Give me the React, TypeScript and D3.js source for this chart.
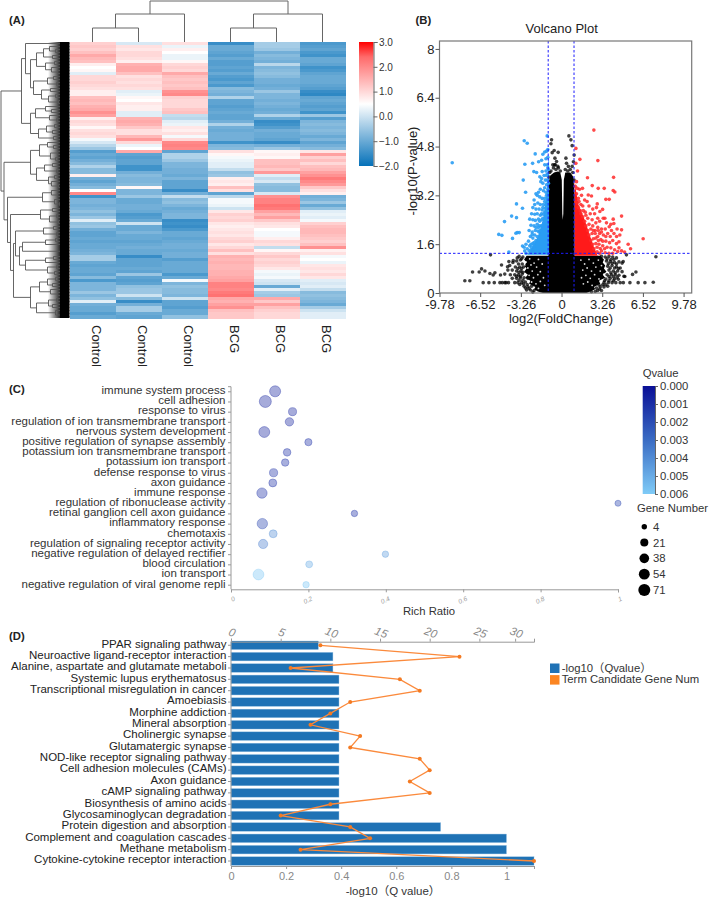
import React, { useEffect, useRef } from 'react';
import * as d3 from 'd3';

const FONT = '"Liberation Sans", Arial, "Noto Sans CJK SC", sans-serif';

// ---- panel A: heatmap ----
const heatColumns = ['Control', 'Control', 'Control', 'BCG', 'BCG', 'BCG'];
const control1 = [1.1,1.2,1.1,1.3,1.6,1.4,1.3,0.7,0.5,0.6,0.2,1.0,1.0,1.1,1.0,0.9,0.7,0.7,1.3,1.4,1.3,1.5,1.6,1.9,1.7,0.7,1.0,0.9,0.6,0.9,1.0,0.9,0.4,0.1,-0.2,-0.5,-1.2,-1.0,-1.1,-0.9,-0.7,-0.3,-0.7,-0.7,0.7,-0.9,-1.1,-0.9,-0.7,0.5,2.0,-1.4,-0.8,-0.8,-0.9,-0.8,-0.6,-0.8,-0.5,0.2,-0.6,-0.5,-0.9,-1.1,-1.1,-1.0,-1.1,-1.0,-1.0,-0.9,-0.8,-0.4,-0.4,-1.0,-1.1,-1.0,-1.0,-1.1,-0.7,-1.3,-0.8,-0.8,-0.8,-0.5,-0.8,-0.6,0.2,-0.9,-1.0,-1.0,-1.2,-1.0];
const control2 = [0.1,0.9,0.8,1.0,1.0,0.9,0.7,1.5,1.6,1.6,1.3,0.9,1.0,0.9,1.0,0.9,0.2,0.3,0.6,0.5,0.8,0.7,0.7,0.2,0.2,1.5,1.6,1.5,1.2,0.9,0.9,1.4,1.8,1.0,0.3,0.5,1.6,-1.1,-1.2,-1.1,-1.1,-1.4,-1.4,-0.9,-0.7,-0.8,-0.8,-0.7,0.6,-0.8,-0.8,-0.5,-1.0,-1.0,-0.9,-0.9,-1.0,-1.3,-1.2,-1.0,0.0,-1.0,-1.0,-0.8,-1.0,-1.0,-1.1,-1.0,-0.9,-1.0,-1.0,-1.5,-1.1,-1.1,-1.1,-1.0,-1.1,-0.5,-1.1,-1.2,-1.1,-0.6,-0.5,-0.5,0.0,-0.7,-1.5,-0.9,-0.4,-0.4,-1.0,-1.1];
const control3 = [0.9,0.3,0.7,0.5,0.3,0.3,0.6,1.0,1.1,1.0,1.6,1.3,1.2,1.3,1.2,1.3,1.9,2.0,1.1,1.0,1.0,1.0,1.2,1.3,-0.1,-0.2,0.2,0.3,0.8,0.7,0.9,0.4,1.0,2.0,2.1,2.0,-1.1,-0.3,-0.3,-0.5,-0.8,-0.8,-0.9,-0.9,-1.0,-0.8,-1.1,-1.1,-1.1,-1.5,-0.9,-0.1,-0.7,-0.6,-0.8,-1.0,-0.9,-0.8,-0.8,-1.5,-1.4,-1.5,-1.3,-1.0,-1.0,-1.1,-1.0,-0.9,-0.9,-1.0,-0.9,-0.9,-1.2,-1.0,-1.0,-1.0,-1.0,-1.3,-1.0,0.4,-0.8,-0.6,-0.7,-0.7,-0.8,0.0,-1.1,-1.1,-1.2,-1.0,-1.0,-0.6];
const bcg1 = [-1.5,-1.0,-1.0,-1.1,-1.2,-1.0,-1.2,-1.2,-1.1,-1.2,-1.0,-1.2,-1.3,-1.1,-1.3,-0.7,-0.8,-0.9,-0.3,-1.1,-1.1,-1.2,-1.1,-1.0,-1.1,-1.1,-0.9,-0.3,-0.9,-1.0,-0.9,-0.9,-0.9,-1.4,-0.8,-0.7,0.9,0.6,0.4,0.3,0.2,0.2,-0.1,-0.6,-0.5,0.7,0.8,0.7,1.3,0.9,-1.1,-0.2,0.4,0.4,0.3,0.0,0.8,1.1,1.0,1.1,0.8,0.7,0.8,0.9,0.8,1.0,1.1,0.8,1.0,1.3,0.9,1.5,1.4,1.5,1.4,1.4,1.5,1.5,1.6,1.7,2.1,2.1,2.0,2.2,2.3,1.6,1.5,1.7,1.9,1.3,1.2,1.2];
const bcg2 = [-0.4,-0.4,-0.5,-0.9,-0.7,-0.8,-0.9,-0.2,-0.8,-0.7,-0.6,-0.7,-0.9,-0.9,-1.0,-0.9,-0.5,-0.8,-0.8,-0.9,-0.8,-0.9,-1.0,-0.9,-0.3,-1.0,-1.5,-1.4,-1.2,-0.9,-1.0,-1.0,-1.1,-1.5,-0.9,-0.5,0.6,0.7,0.6,1.3,1.3,1.4,1.2,1.8,0.2,-0.1,0.1,-0.6,-0.7,-0.7,0.1,1.9,2.1,2.1,2.3,2.2,1.7,1.4,1.7,1.2,0.9,0.8,0.5,0.4,0.4,0.7,1.0,0.9,-0.1,0.6,1.0,1.2,1.0,1.1,1.0,0.8,0.4,0.3,0.4,0.1,0.0,-1.0,0.2,-0.4,-0.5,1.6,1.2,1.7,1.3,1.1,1.0,1.0];
const bcg3 = [-1.3,-1.2,-1.1,-1.3,-1.4,-1.0,-1.0,-1.1,-1.4,-1.3,-1.1,-1.0,-1.0,-1.0,-1.1,-1.2,-1.5,-1.6,-1.1,-1.0,-1.1,-1.2,-1.1,-1.4,-0.5,-1.2,-0.8,-0.7,-0.8,-0.7,-0.8,-1.0,-0.8,-1.1,-0.9,-0.7,0.8,1.7,1.1,1.3,1.0,1.3,1.4,1.7,1.9,2.2,2.0,1.8,1.2,0.9,0.7,-0.9,-0.8,-0.5,-1.0,-0.6,0.2,0.3,0.2,0.4,1.1,1.3,1.4,1.4,1.3,1.2,1.1,1.3,1.9,0.7,0.9,0.4,0.5,0.3,0.8,0.9,0.8,1.0,0.8,0.2,0.1,0.2,-0.1,-0.7,-0.6,-0.7,-0.8,-1.0,-0.4,0.0,0.2,0.2];
const heatValues = [control1, control2, control3, bcg1, bcg2, bcg3];
const heatBarTicks = [3, 2, 1, 0, -1, -2];

// dendrograms: [merge height, ...children], a number is a leaf
type Tree = number | Tree[];
const topTree: Tree = [41, [28, [14, 0, 1], 2], [28, [14, 3, 4], 5]];
const leftTree: Tree = [68.5,
  [48,
    [44, 0,
      [39,
        [33, [26, [20, 1, [14, 2, 3]], [17, 4, 5]], [24, [15, 6, 7], [18, 8, [12, 9, 10]]]],
        [36, [22, [16, 11, 12], [13, 13, 14]], [28, [19, 15, 16], [21, [14, 17, 18], [11, 19, 20]]]]
      ]
    ],
    [39,
      [34, [24, 21, [18, 22, 23]], [20, 24, [13, 25, 26]]],
      [31, [23, [15, 27, 28], [17, 29, 30]], [16, 31, 32]]
    ]
  ],
  [65.5,
    [39,
      [30, [22, 33, [16, 34, 35]], [19, [12, 36, 37], [14, 38, 39]]],
      [33, [25, [17, 40, 41], [13, 42, 43]], [21, [15, 44, 45], [18, 46, [11, 47, 48]]]]
    ],
    [62,
      [27, [18, 49, [12, 50, 51]], [15, 52, [10, 53, 54]]],
      [59,
        [29, [17, 55, 56], [20, [13, 57, 58], [11, 59, 60]]],
        [56,
          [54,
            [26, [16, 61, 62], [13, 63, 64]],
            [50,
              [47, [24, [14, 65, 66], 67], [9, [5, 68, 69], 70]],
              [44, [24, [16, 71, 72], 73], [22, [13, 74, 75], [15, 76, 77]]]
            ]
          ],
          [39,
            [30, [22, [14, 78, 79], [17, 80, 81]], [19, 82, [12, 83, 84]]],
            [33, [21, [13, 85, 86], [17, 87, 88]], [14, 89, [9, 90, 91]]]
          ]
        ]
      ]
    ]
  ]
];

// ---- panel B: volcano ----
const volcanoXTicks = [-9.78, -6.52, -3.26, 0, 3.26, 6.52, 9.78];
const volcanoYTicks = [0, 1.6, 3.2, 4.8, 6.4, 8];
// dense parts of the cloud, read as outlines
const coreTop = [[-1.05,3.6],[-0.9,3.85],[-0.6,3.95],[-0.3,3.98],[-0.1,3.95],[0.02,3.7],[0.06,2.6],[0.1,2.4],[0.14,2.6],[0.18,3.7],[0.3,3.95],[0.7,3.95],[0.95,3.8],[1.05,3.2]];
const lowerLeftEdge = [[0,-1.5],[0.05,-1.9],[0.12,-2.2],[0.2,-2.1],[0.3,-2.6],[0.4,-2.5],[0.5,-2.9],[0.6,-2.7],[0.7,-3],[0.8,-2.8],[0.9,-3],[1,-2.8],[1.1,-3],[1.22,-2.8]];
const lowerRightEdge = [[0,2],[0.05,2.3],[0.12,2.7],[0.2,2.6],[0.3,3.1],[0.4,3],[0.5,3.5],[0.6,3.3],[0.7,3.6],[0.8,3.4],[0.9,3.5],[1,3.3],[1.1,3.4],[1.22,3.1]];
const blueEdge = [[1.25,-2.75],[1.5,-2.35],[1.85,-1.9],[2.4,-1.5],[2.9,-1.3],[3.5,-1.15],[4.4,-1.05]];
const redEdge = [[1.22,2.9],[1.5,2.6],[1.85,2.3],[2.4,1.85],[2.9,1.35],[3.5,1.1],[3.8,1.05]];
// gaps left in the black mass below the threshold
const lowerGaps = [[-2.85,1.02],[-2.55,1.12],[-2.2,0.98],[-1.85,1.1],[-1.55,0.95],[-2.7,0.82],[-2.35,0.72],[-2,0.85],[-1.7,0.7],[-2.6,0.58],[-2.25,0.5],[-1.9,0.6],[-1.45,0.5],[-2.4,0.36],[-2.05,0.3],[-1.7,0.38],[-1.35,0.25],[-1.85,0.15],[-2.95,0.92],[-2.45,0.92],
  [1.55,1.08],[1.85,0.95],[2.2,1.1],[2.55,0.98],[2.95,1.08],[3.2,0.9],[1.7,0.75],[2.05,0.82],[2.4,0.72],[2.75,0.85],[3.1,0.72],[3.4,0.62],[1.6,0.5],[1.95,0.58],[2.3,0.48],[2.65,0.6],[3,0.46],[1.75,0.3],[2.1,0.36],[2.45,0.25]];
const bluePoints = [[-8.76,4.27],[-2.99,4.99],[-2.75,4.91],[-2.11,4.56],[-2.94,4.22],[-2.32,4.25],[-1.84,4.3],[-2.22,3.98],[-3.07,3.7],[-2,3.95],[-1.74,3.81],[-1.66,3.65],[-2.88,3.3],[-3.61,2.92],[-3.13,2.78],[-4,2.52],[-3.61,2.47],[-4.57,2.34],[-5.03,1.92],[-4.78,1.89],[-3.93,1.79],[-3.55,1.98],[-3.39,1.98],[-3.66,1.96],[-4.22,1.34],[-3.13,1.54],
  [-1.1,4.7],[-1.2,4.65],[-1.35,4.62],[-1.5,4.55],[-1.15,5.15],[-1.1,4.45],[-1.25,4.4],[-1.6,4.35],[-1.35,4.2],[-1.15,4.2],[-1.05,4.05],[-1.25,4],[-1.55,3.98],[-1.4,3.85],[-1.15,3.9],[-1.6,3.75],[-1.3,3.7],[-1.05,3.6],[-1.2,3.55],[-1.5,3.6],[-1.1,3.4],[-1.25,3.3],[-1.45,3.35],[-1.7,3.4],[-1.85,3.3],[-1.95,3.2],[-2.05,3.25],[-1.75,3.15],[-1.55,3.1],[-1.35,3.1],[-1.15,3.15],[-2.2,3.05],[-2.15,2.9],[-1.9,2.95],[-1.7,2.9],[-1.45,2.9],[-1.2,2.95],[-2.3,2.8],[-2.05,2.75],[-1.8,2.75],[-1.55,2.72],[-1.3,2.78],[-2.4,2.6],[-2.15,2.58],[-1.95,2.6],[-1.7,2.55],[-1.45,2.58],[-2.55,2.42],[-2.3,2.4],[-2.1,2.38],[-1.85,2.42],[-1.6,2.4],[-2.45,2.22],[-2.2,2.2],[-1.95,2.25],[-1.75,2.2],[-2.6,2.05],[-2.35,2],[-2.1,2.05],[-1.9,2.03],[-2.5,1.85],[-2.3,1.8],[-2.65,1.7],[-2.85,1.6],[-2.75,1.45],[-3,1.5],[-2.2,1.65],[-2.45,1.6],
  [-2.85,1.3],[-2.6,1.38],[-2.4,1.5],[-2.15,1.45],[-2.95,1.38],[-2.55,1.55],[-2.3,1.62],[-2.05,1.72],[-2.35,1.92],[-2.15,1.9],[-1.95,1.85],[-1.8,2],[-2.05,2.15],[-1.85,2.15],[-1.6,2.2],[-1.75,2.35],[-1.5,2.45],[-1.6,2.6],[-1.35,2.65],[-1.5,2.8],[-1.25,2.88],[-1.35,3],[-1.2,3.2],[-1.35,3.45],[-1.15,3.7],[-1.2,3.85],[-1.1,4.1],[-1.7,2.05],[-2.45,1.42],[-2.2,1.55]];
const redPoints = [[2.59,5.34],[2.91,4.34],[1.15,4.74],[1.47,4.38],[1.28,4],[1.15,4.25],[2.08,3.78],[4.17,3.79],[2.46,3.52],[2.94,3.43],[3.42,3.43],[4.14,3.36],[4.27,3.31],[1.2,3.65],[1.26,3.43],[1.45,3.4],[1.68,3.43],[2.14,3.21],[2.4,3.18],[3.55,3.07],[3.82,3.07],[2.86,2.92],[3.29,2.74],[3.07,2.67],[2.8,2.8],[4.81,2.52],[4.14,2.42],[4.19,2.28],[4.81,2.07],[6.54,1.78],[5.34,1.6],[5.53,1.45],[4.67,1.9],[4.41,1.85],[4.81,1.38],[5.05,1.34],[3.34,2.45],[3.47,2.45],[3.82,2.17],
  [1.6,3.2],[1.85,3.05],[2.05,3.0],[1.4,3.0],[1.7,2.85],[2.2,2.85],[2.5,2.75],[1.5,2.7],[1.9,2.65],[2.3,2.6],[2.65,2.6],[2.9,2.45],[2.45,2.4],[2.75,2.3],[3.05,2.35],[3.6,2.3],[3.95,2.25],[2.5,2.2],[2.9,2.15],[3.2,2.1],[3.5,2.1],[4,2.05],[4.45,2.1],[2.7,2.05],[3.05,1.95],[3.35,1.9],[3.7,1.95],[3.9,1.85],[4.2,1.95],[2.9,1.85],[3.15,1.75],[3.55,1.7],[3.85,1.65],[4.1,1.72],[4.4,1.62],[4.6,1.68],[3,1.6],[3.3,1.55],[3.65,1.5],[3.95,1.48],[4.25,1.42],[4.5,1.36],[3.2,1.38],[3.5,1.32],[3.8,1.3],[4.1,1.3],[4.6,1.48],
  [2.65,1.3],[2.85,1.35],[3.05,1.3],[2.6,1.45],[2.85,1.5],[3.1,1.46],[2.5,1.6],[2.75,1.62],[2.95,1.72],[2.35,1.72],[2.55,1.78],[2.75,1.8],[2.2,1.9],[2.45,1.95],[2.7,1.95],[2.1,2.05],[2.35,2.1],[2.55,2.05],[1.95,2.2],[2.2,2.25],[1.85,2.35],[2.1,2.45],[1.7,2.5],[1.95,2.55],[1.55,2.6],[1.75,2.7],[1.35,2.8],[1.55,2.9],[1.25,2.95],[1.35,3.1],[1.2,3.25],[1.15,3],[1.1,3.5],[3.45,1.45],[3.3,1.7],[3.55,1.85],[3.2,2],[2.95,2.05]];
const blackPoints = [[-0.8,5.02],[-0.85,4.89],[0.59,5.15],[0.75,5.02],[0.85,4.83],[-0.59,4.67],[-0.27,4.61],[-0.53,4.42],[-0.4,4.31],[0.35,4.42],[0.4,4.25],[-0.55,4.2],[-0.3,4.15],[1.01,4.52],[0.95,4.3],[-0.75,4.6],[-0.7,4.2],
  [-1,3.8],[-0.85,4],[-0.65,4.1],[-0.45,4.05],[-0.25,4.1],[-0.1,4],[0.3,4.05],[0.5,4],[0.7,4.05],[0.9,3.95],[1,3.7],[-0.95,3.95],[-0.5,4.2],[0.55,4.15],[0.85,4.15],
  [-5.69,1.25],[-4.81,0.92],[-4.22,1.03],[-3.87,1.06],[-4.33,0.86],[-4.89,0.59],[-5.48,0.59],[-5.74,0.64],[-6.14,0.72],[-6.41,0.79],[-6.6,0.69],[-7.13,0.69],[-7.75,0.4],[-7.35,0.4],[-6.28,0.34],[-5.82,0.34],[-5.39,0.34],[-4.94,0.34],[-4.75,0.34],[-4.54,0.34],[-5.34,0.66],
  [5.2,1.25],[7.56,1.19],[7.35,0.35],[6.68,0.34],[6.14,0.34],[5.96,0.69],[5.69,0.61],[5.48,0.34],[5.07,0.54],[4.94,1.03],
  [-3.4,1.2],[-3.1,1.18],[-3.6,1.05],[-3.3,1.08],[-3.9,1],[-3.45,0.95],[-3.15,0.95],[-4.15,0.9],[-3.7,0.85],[-3.35,0.85],[-3.05,0.85],[-4.3,0.75],[-3.95,0.75],[-3.6,0.72],[-3.25,0.72],[-4.55,0.62],[-4.1,0.6],[-3.75,0.6],[-3.45,0.6],[-3.15,0.62],[-3.95,0.48],[-3.6,0.48],[-3.3,0.5],[-3,0.5],[-2.7,0.48],[-4.45,0.34],[-4.25,0.34],[-3.75,0.34],[-3.5,0.34],[-3.2,0.34],[-2.9,0.36],[-3,0.22],[-2.7,0.2],[-2.4,0.22],[-2.8,0.1],[-2.5,0.1],[-2.2,0.08],[-2.3,0.03],
  [-3.2,1.12],[-3.55,1.15],[-3.2,0.8],[-3.5,0.8],[-3.1,0.68],[-3.4,0.68],[-3.3,0.55],[-3.6,0.55],[-3.1,0.42],[-3.4,0.42],[-2.75,0.28],[-3.05,0.3],[-3.35,0.28],[-2.6,0.15],[-2.9,0.16],
  [3.2,1.2],[3.5,1.18],[3.8,1.2],[4.1,1.18],[4.4,1.15],[3.6,1.05],[3.9,1.03],[4.25,1],[4.6,1.02],[4.85,0.98],[3.7,0.88],[4.05,0.9],[4.4,0.86],[4.7,0.82],[3.8,0.75],[4.15,0.72],[4.5,0.72],[4.85,0.7],[3.65,0.6],[4,0.6],[4.3,0.6],[4.6,0.58],[5,0.55],[3.55,0.46],[3.9,0.48],[4.25,0.46],[4.55,0.45],[3.4,0.34],[3.75,0.34],[4.05,0.34],[4.35,0.34],[4.7,0.34],[4.95,0.34],[3.1,0.2],[3.4,0.2],[3.7,0.22],[2.9,0.08],[3.2,0.08],
  [3.65,1.12],[3.95,1.1],[4.2,1.1],[3.75,0.96],[4.05,0.98],[4.4,0.95],[3.9,0.82],[4.25,0.82],[4.55,0.8],[3.95,0.66],[4.3,0.66],[3.8,0.54],[4.15,0.53],[4.45,0.52],[3.45,0.4],[3.8,0.4],[4.15,0.4],[3,0.26],[3.3,0.27],[3.55,0.27],[2.8,0.16],[3.05,0.13],[2.4,0.04],[2.7,0.05]];

// ---- panel C: enrichment bubbles ----
const goTerms = ['immune system process','cell adhesion','response to virus','regulation of ion transmembrane transport','nervous system development','positive regulation of synapse assembly','potassium ion transmembrane transport','potassium ion transport','defense response to virus','axon guidance','immune response','regulation of ribonuclease activity','retinal ganglion cell axon guidance','inflammatory response','chemotaxis','regulation of signaling receptor activity','negative regulation of delayed rectifier','blood circulation','ion transport','negative regulation of viral genome repli'];
const richRatio = [0.114,0.0887,0.159,0.151,0.086,0.2,0.145,0.14,0.11,0.108,0.08,1,0.319,0.081,0.109,0.083,0.399,0.202,0.071,0.194];
const geneCount = [56,71,21,24,54,14,17,16,22,20,46,7,9,47,20,33,9,12,52,9];
const qValue = [0.0006,0.0006,0.0006,0.0006,0.0006,0.001,0.001,0.001,0.001,0.001,0.001,0.0015,0.001,0.0015,0.004,0.0035,0.0045,0.005,0.0058,0.0058];
const richTicks = [0, 0.2, 0.4, 0.6, 0.8, 1];
const qTicks = [0, 0.001, 0.002, 0.003, 0.004, 0.005, 0.006];
const geneLegend = [4, 21, 38, 54, 71];

// ---- panel D: KEGG bars and line ----
const pathways = ['PPAR signaling pathway','Neuroactive ligand-receptor interaction','Alanine, aspartate and glutamate metaboli','Systemic lupus erythematosus','Transcriptional misregulation in cancer','Amoebiasis','Morphine addiction','Mineral absorption','Cholinergic synapse','Glutamatergic synapse','NOD-like receptor signaling pathway','Cell adhesion molecules (CAMs)','Axon guidance','cAMP signaling pathway','Biosynthesis of amino acids','Glycosaminoglycan degradation','Protein digestion and absorption','Complement and coagulation cascades','Methane metabolism','Cytokine-cytokine receptor interaction'];
const logQ = [0.317,0.37,0.37,0.392,0.392,0.392,0.392,0.392,0.392,0.392,0.392,0.392,0.392,0.392,0.392,0.392,0.761,1,1,1.1];
const candidateNum = [9,23,6,17,19,12,10,8,13,12,19,20,18,20,10,5,12,14,7,30.5];
const logQTicks = [0, 0.2, 0.4, 0.6, 0.8, 1, 1.1];

// walks a dendrogram and returns its segments, p = position along the leaves, h = height
function treeSegments(tree: Tree, leafPos: (i: number) => number) {
  const segs: { p0: number; h0: number; p1: number; h1: number }[] = [];
  const walk = (n: Tree): { p: number; h: number } => {
    if (typeof n === 'number') return { p: leafPos(n), h: 0 };
    const [h, ...kids] = n as [number, ...Tree[]];
    const placed = kids.map(walk);
    const p = (placed[0].p + placed[placed.length - 1].p) / 2;
    placed.forEach(k => segs.push({ p0: k.p, h0: k.h, p1: k.p, h1: h }));
    segs.push({ p0: placed[0].p, h0: h, p1: placed[placed.length - 1].p, h1: h });
    return { p, h };
  };
  walk(tree);
  return segs;
}

export default function App() {
  const svgRef = useRef<SVGSVGElement>(null);

  useEffect(() => {
    const svg = d3.select(svgRef.current);
    svg.selectAll('*').remove();
    svg.style('font-family', FONT);
    const defs = svg.append('defs');
    defs.append('filter').attr('id', 'soft').attr('x', 0).attr('y', 0).attr('width', 1).attr('height', 1)
      .append('feGaussianBlur').attr('stdDeviation', 0.6);

    const panelLabel = (t: string, x: number, y: number) =>
      svg.append('text').attr('x', x).attr('y', y).attr('font-size', 11.3).attr('font-weight', 'bold').attr('fill', '#222').text(t);
    panelLabel('(A)', 9, 24);
    panelLabel('(B)', 415.5, 24);
    panelLabel('(C)', 9, 393);
    panelLabel('(D)', 9, 640);

    // ---------- A ----------
    const heatColor = d3.scaleLinear<string>().domain([-2, 0.5, 2.4, 3]).range(['#0571b9', '#ffffff', '#ff6a6a', '#ff0000']);
    const colX = d3.scaleBand<number>().domain(d3.range(6)).range([69.5, 345.5]);
    const rowY = d3.scaleBand<number>().domain(d3.range(control1.length)).range([42, 318]);
    const heat = svg.append('g').attr('shape-rendering', 'crispEdges').attr('filter', 'url(#soft)');
    heatValues.forEach((col, c) => {
      heat.selectAll(null).data(col).enter().append('rect')
        .attr('x', colX(c)!).attr('width', colX.bandwidth() + 0.5)
        .attr('y', (_, r) => rowY(r)!).attr('height', rowY.bandwidth() + 0.5)
        .attr('fill', d => heatColor(d));
    });

    // fading leaf mass beside the heatmap
    const fade = defs.append('linearGradient').attr('id', 'leafFade');
    fade.append('stop').attr('offset', '0').attr('stop-color', '#000').attr('stop-opacity', 0);
    fade.append('stop').attr('offset', '1').attr('stop-color', '#000').attr('stop-opacity', 0.85);
    svg.append('rect').attr('x', 48).attr('y', 42).attr('width', 12).attr('height', 276).attr('fill', 'url(#leafFade)');

    const leftX = (h: number) => 69.5 - h;
    const leftRows = d3.scalePoint<number>().domain(d3.range(control1.length)).range([43.5, 316.5]);
    svg.append('g').attr('stroke', '#555').attr('stroke-width', 0.9)
      .selectAll('line').data(treeSegments(leftTree, i => leftRows(i)!)).enter().append('line')
      .attr('x1', d => leftX(d.h0)).attr('x2', d => leftX(d.h1)).attr('y1', d => d.p0).attr('y2', d => d.p1);
    svg.append('rect').attr('x', 60).attr('y', 42).attr('width', 9.5).attr('height', 276).attr('fill', '#000');

    const topY = (h: number) => 42 - h;
    svg.append('g').attr('stroke', '#666').attr('stroke-width', 1)
      .selectAll('line').data(treeSegments(topTree, i => colX(i)! + colX.bandwidth() / 2)).enter().append('line')
      .attr('x1', d => d.p0).attr('x2', d => d.p1).attr('y1', d => topY(d.h0)).attr('y2', d => topY(d.h1));

    svg.append('g').selectAll('text').data(heatColumns).enter().append('text')
      .attr('transform', (_, i) => `translate(${colX(i)! + colX.bandwidth() / 2 - 0.5},325) rotate(90)`)
      .attr('font-size', 13).attr('fill', '#222').text(d => d);

    const barGrad = defs.append('linearGradient').attr('id', 'heatBar').attr('x1', 0).attr('x2', 0).attr('y1', 1).attr('y2', 0);
    [-2, -0.75, 0.5, 1.45, 2.4, 3].forEach(v =>
      barGrad.append('stop').attr('offset', (v + 2) / 5).attr('stop-color', heatColor(v)));
    svg.append('rect').attr('x', 359).attr('y', 42).attr('width', 14.5).attr('height', 124).attr('fill', 'url(#heatBar)');
    const heatBarY = d3.scaleLinear().domain([-2, 3]).range([166, 42]);
    const heatAxis = svg.append('g').attr('transform', 'translate(373.5,0)')
      .call(d3.axisRight(heatBarY).tickValues(heatBarTicks).tickSize(4).tickFormat(d3.format('.1f')) as any);
    heatAxis.selectAll('line,path').attr('stroke', '#666');
    heatAxis.selectAll('text').attr('font-size', 10).attr('font-family', FONT).attr('fill', '#333').attr('x', 5.5);

    // ---------- B ----------
    const vx = d3.scaleLinear().domain([-9.78, 10.43]).range([439.5, 691.7]);
    const vy = d3.scaleLinear().domain([0, 8.26]).range([293, 41]);
    const areaX = d3.area<number[]>().x(d => vx(d[0])).y0(vy(0)).y1(d => vy(d[1]));
    const lower = [...lowerLeftEdge.map(([y, x]) => [x, y]), ...lowerRightEdge.slice().reverse().map(([y, x]) => [x, y])];
    svg.append('path').attr('d', d3.line<number[]>().x(d => vx(d[0])).y(d => vy(d[1]))(lower)! + 'Z').attr('fill', '#000');
    const dots = (pts: number[][], color: string, op: number, r = 1.8) =>
      svg.append('g').selectAll('circle').data(pts).enter().append('circle')
        .attr('cx', d => vx(d[0])).attr('cy', d => vy(d[1])).attr('r', r)
        .attr('fill', color).attr('fill-opacity', op);
    dots(lowerGaps, '#fff', 0.85, 0.9);
    svg.append('path').attr('d', areaX(coreTop)!).attr('fill', '#000');
    const sideArea = (edge: number[][], inner: number) =>
      d3.area<number[]>().y(d => vy(d[0])).x0(d => vx(d[1])).x1(vx(inner))(edge)!;
    svg.append('path').attr('d', sideArea(blueEdge, -1)).attr('fill', '#2a9df4');
    svg.append('path').attr('d', sideArea(redEdge, 1.05)).attr('fill', '#ff1a1a');
    dots(blackPoints, '#000', 0.75);
    dots(bluePoints, '#2a9df4', 0.9);
    dots(redPoints, '#ff2a2a', 0.85);

    const thresh = svg.append('g').attr('stroke', '#1c1cff').attr('stroke-width', 1).attr('stroke-dasharray', '2.5 2');
    thresh.append('line').attr('x1', vx(-1.07)).attr('x2', vx(-1.07)).attr('y1', vy.range()[1]).attr('y2', vy(0));
    thresh.append('line').attr('x1', vx(1)).attr('x2', vx(1)).attr('y1', vy.range()[1]).attr('y2', vy(0));
    thresh.append('line').attr('x1', vx.range()[0]).attr('x2', vx.range()[1]).attr('y1', vy(1.3)).attr('y2', vy(1.3));

    svg.append('rect').attr('x', 439.5).attr('y', 41).attr('width', 252.2).attr('height', 252)
      .attr('fill', 'none').attr('stroke', '#777').attr('stroke-width', 1.2);
    const vFormat = (d: any) => String(d);
    const vxAxis = svg.append('g').attr('transform', 'translate(0,293)')
      .call(d3.axisBottom(vx).tickValues(volcanoXTicks).tickSize(4).tickFormat(vFormat) as any);
    const vyAxis = svg.append('g').attr('transform', 'translate(439.5,0)')
      .call(d3.axisLeft(vy).tickValues(volcanoYTicks).tickSize(4).tickFormat(vFormat) as any);
    [vxAxis, vyAxis].forEach(a => {
      a.select('.domain').remove();
      a.selectAll('line').attr('stroke', '#555');
      a.selectAll('text').attr('font-size', 13).attr('font-family', FONT).attr('fill', '#222');
    });
    vyAxis.selectAll('text').attr('x', -5);
    svg.append('text').attr('x', 561.7).attr('y', 33).attr('text-anchor', 'middle').attr('font-size', 13).attr('fill', '#222').text('Volcano Plot');
    svg.append('text').attr('x', 561).attr('y', 323).attr('text-anchor', 'middle').attr('font-size', 13).attr('fill', '#222').text('log2(FoldChange)');
    svg.append('text').attr('transform', 'translate(416.5,171) rotate(-90)').attr('text-anchor', 'middle').attr('font-size', 13).attr('fill', '#222').text('-log10(P-value)');

    // ---------- C ----------
    const rx = d3.scaleLinear().domain([0, 1]).range([231, 618]);
    const ry = d3.scalePoint<string>().domain(goTerms).range([391.3, 584.7]);
    const qColor = d3.scaleLinear<string>().domain([0, 0.003, 0.006]).range(['#0a0f96', '#3a6cc4', '#7fcbf7']);
    const size = d3.scaleSqrt().domain([4, 71]).range([2.7, 6]);

    const cLeft = svg.append('g').attr('transform', 'translate(231,0)').call(d3.axisLeft(ry).tickSize(3) as any);
    cLeft.select('.domain').attr('d', 'M-3,386.7H0V589.3');
    cLeft.selectAll('line,.domain').attr('stroke', '#999');
    cLeft.selectAll('text').attr('font-size', 11.5).attr('font-family', FONT).attr('fill', '#333').attr('x', -5.5).attr('dy', '0.2em');

    const cBottom = svg.append('g').attr('transform', 'translate(0,589.3)')
      .call(d3.axisBottom(rx).tickValues(richTicks).tickSize(3).tickFormat(d3.format('~g')) as any);
    cBottom.selectAll('line,.domain').attr('stroke', '#999');
    cBottom.selectAll('text').attr('font-size', 6.5).attr('font-family', FONT).attr('fill', '#999').attr('font-style', 'italic')
      .attr('transform', 'rotate(-25)').attr('text-anchor', 'end').attr('y', 7).attr('x', -1);

    svg.append('g').selectAll('circle').data(goTerms).enter().append('circle')
      .attr('cx', (_, i) => rx(richRatio[i])).attr('cy', d => ry(d)!).attr('r', (_, i) => size(geneCount[i]))
      .attr('fill', (_, i) => qColor(qValue[i])).attr('fill-opacity', 0.38)
      .attr('stroke', (_, i) => qColor(qValue[i])).attr('stroke-opacity', 0.5).attr('stroke-width', 0.7);

    svg.append('text').attr('x', 429).attr('y', 615).attr('text-anchor', 'middle').attr('font-size', 11.3).attr('fill', '#333').text('Rich Ratio');

    const qGrad = defs.append('linearGradient').attr('id', 'qBar').attr('x1', 0).attr('x2', 0).attr('y1', 0).attr('y2', 1);
    [0, 0.003, 0.006].forEach(v => qGrad.append('stop').attr('offset', v / 0.006).attr('stop-color', qColor(v)));
    svg.append('rect').attr('x', 642.7).attr('y', 386).attr('width', 12.3).attr('height', 108).attr('fill', 'url(#qBar)');
    const qY = d3.scaleLinear().domain([0, 0.006]).range([386, 494]);
    const qAxis = svg.append('g').attr('transform', 'translate(655,0)')
      .call(d3.axisRight(qY).tickValues(qTicks).tickSize(3).tickFormat(d3.format('.3f')) as any);
    qAxis.selectAll('line,.domain').attr('stroke', '#666');
    qAxis.selectAll('text').attr('font-size', 11.3).attr('font-family', FONT).attr('fill', '#333').attr('x', 5);
    svg.append('text').attr('x', 642.7).attr('y', 377).attr('font-size', 11.3).attr('fill', '#333').text('Qvalue');

    svg.append('text').attr('x', 637).attr('y', 512).attr('font-size', 11.3).attr('fill', '#333').text('Gene Number');
    const legendY = d3.scalePoint<number>().domain(geneLegend).range([526.7, 590]);
    const geneRow = svg.append('g').selectAll('g').data(geneLegend).enter().append('g')
      .attr('transform', d => `translate(644.3,${legendY(d)})`);
    geneRow.append('circle').attr('r', d => size(d)).attr('fill', '#000');
    geneRow.append('text').attr('x', 8.7).attr('dy', '0.36em').attr('font-size', 11.3).attr('fill', '#333').text(d => d);

    // ---------- D ----------
    const qx = d3.scaleLinear().domain([0, 1.1]).range([231, 534]);
    const cx = d3.scaleLinear().domain([0, 30.5]).range([231, 534]);
    const by = d3.scaleBand<string>().domain(pathways).range([639.6, 866.7]).paddingInner(0.25).paddingOuter(0.125);

    svg.append('g').selectAll('rect').data(pathways).enter().append('rect')
      .attr('x', 231).attr('y', d => by(d)!).attr('height', by.bandwidth())
      .attr('width', (_, i) => qx(logQ[i]) - 231)
      .attr('fill', '#1f72b5').attr('stroke', '#8fbde0').attr('stroke-width', 0.4);

    const rowMid = (d: string) => by(d)! + by.bandwidth() / 2;
    const candLine = d3.line<string>().x((_, i) => cx(candidateNum[i])).y(d => rowMid(d));
    svg.append('path').attr('d', candLine(pathways)!).attr('fill', 'none').attr('stroke', '#fb8a3c').attr('stroke-width', 1.3);
    svg.append('g').selectAll('circle').data(pathways).enter().append('circle')
      .attr('cx', (_, i) => cx(candidateNum[i])).attr('cy', d => rowMid(d)).attr('r', 2).attr('fill', '#f47a22');

    const dLeft = svg.append('g').attr('transform', 'translate(231,0)').call(d3.axisLeft(by).tickSize(3) as any);
    dLeft.select('.domain').attr('d', 'M0,641.7V866');
    dLeft.selectAll('line,.domain').attr('stroke', '#999');
    dLeft.selectAll('text').attr('font-size', 11.5).attr('font-family', FONT).attr('fill', '#222').attr('x', -4.5).attr('dy', '0.2em');

    const dBottom = svg.append('g').attr('transform', 'translate(0,866)')
      .call(d3.axisBottom(qx).tickValues(logQTicks).tickSize(3).tickFormat((d: any) => (d === 1.1 ? '' : String(d))) as any);
    dBottom.selectAll('line,.domain').attr('stroke', '#999');
    dBottom.selectAll('text').attr('font-size', 11).attr('font-family', FONT).attr('fill', '#888');

    // the last tick of the top axis sits short of its place in the source figure
    const topTickAt = [0, 5, 10, 15, 20, 25, 28.6];
    const dTop = svg.append('g').attr('transform', 'translate(0,641.7)')
      .call(d3.axisTop(cx).tickValues(topTickAt).tickSize(3).tickFormat((d: any) => (d === 28.6 ? '30' : String(d))) as any);
    dTop.selectAll('line,.domain').attr('stroke', '#999');
    dTop.selectAll('text').attr('font-size', 11.5).attr('font-family', FONT).attr('fill', '#888').attr('font-style', 'italic')
      .attr('text-anchor', 'middle').attr('transform', 'rotate(20)').attr('y', -5).attr('x', -2.5);

    svg.append('text').attr('x', 393).attr('y', 895).attr('text-anchor', 'middle').attr('font-size', 11.5).attr('fill', '#333').text('-log10（Q value）');

    const dLegend = [['-log10（Qvalue）', '#1f72b5'], ['Term Candidate Gene Num', '#fb8522']];
    const dl = svg.append('g').selectAll('g').data(dLegend).enter().append('g')
      .attr('transform', (_, i) => `translate(550,${663.5 + i * 11.6})`);
    dl.append('rect').attr('width', 9.5).attr('height', 9.5).attr('fill', d => d[1]);
    dl.append('text').attr('x', 11.7).attr('y', 8).attr('font-size', 11.3).attr('fill', '#333').text(d => d[0]);
  }, []);

  return <svg ref={svgRef} width={709} height={898} style={{ position: 'absolute', left: 0, top: 0, background: '#fff' }} />;
}
